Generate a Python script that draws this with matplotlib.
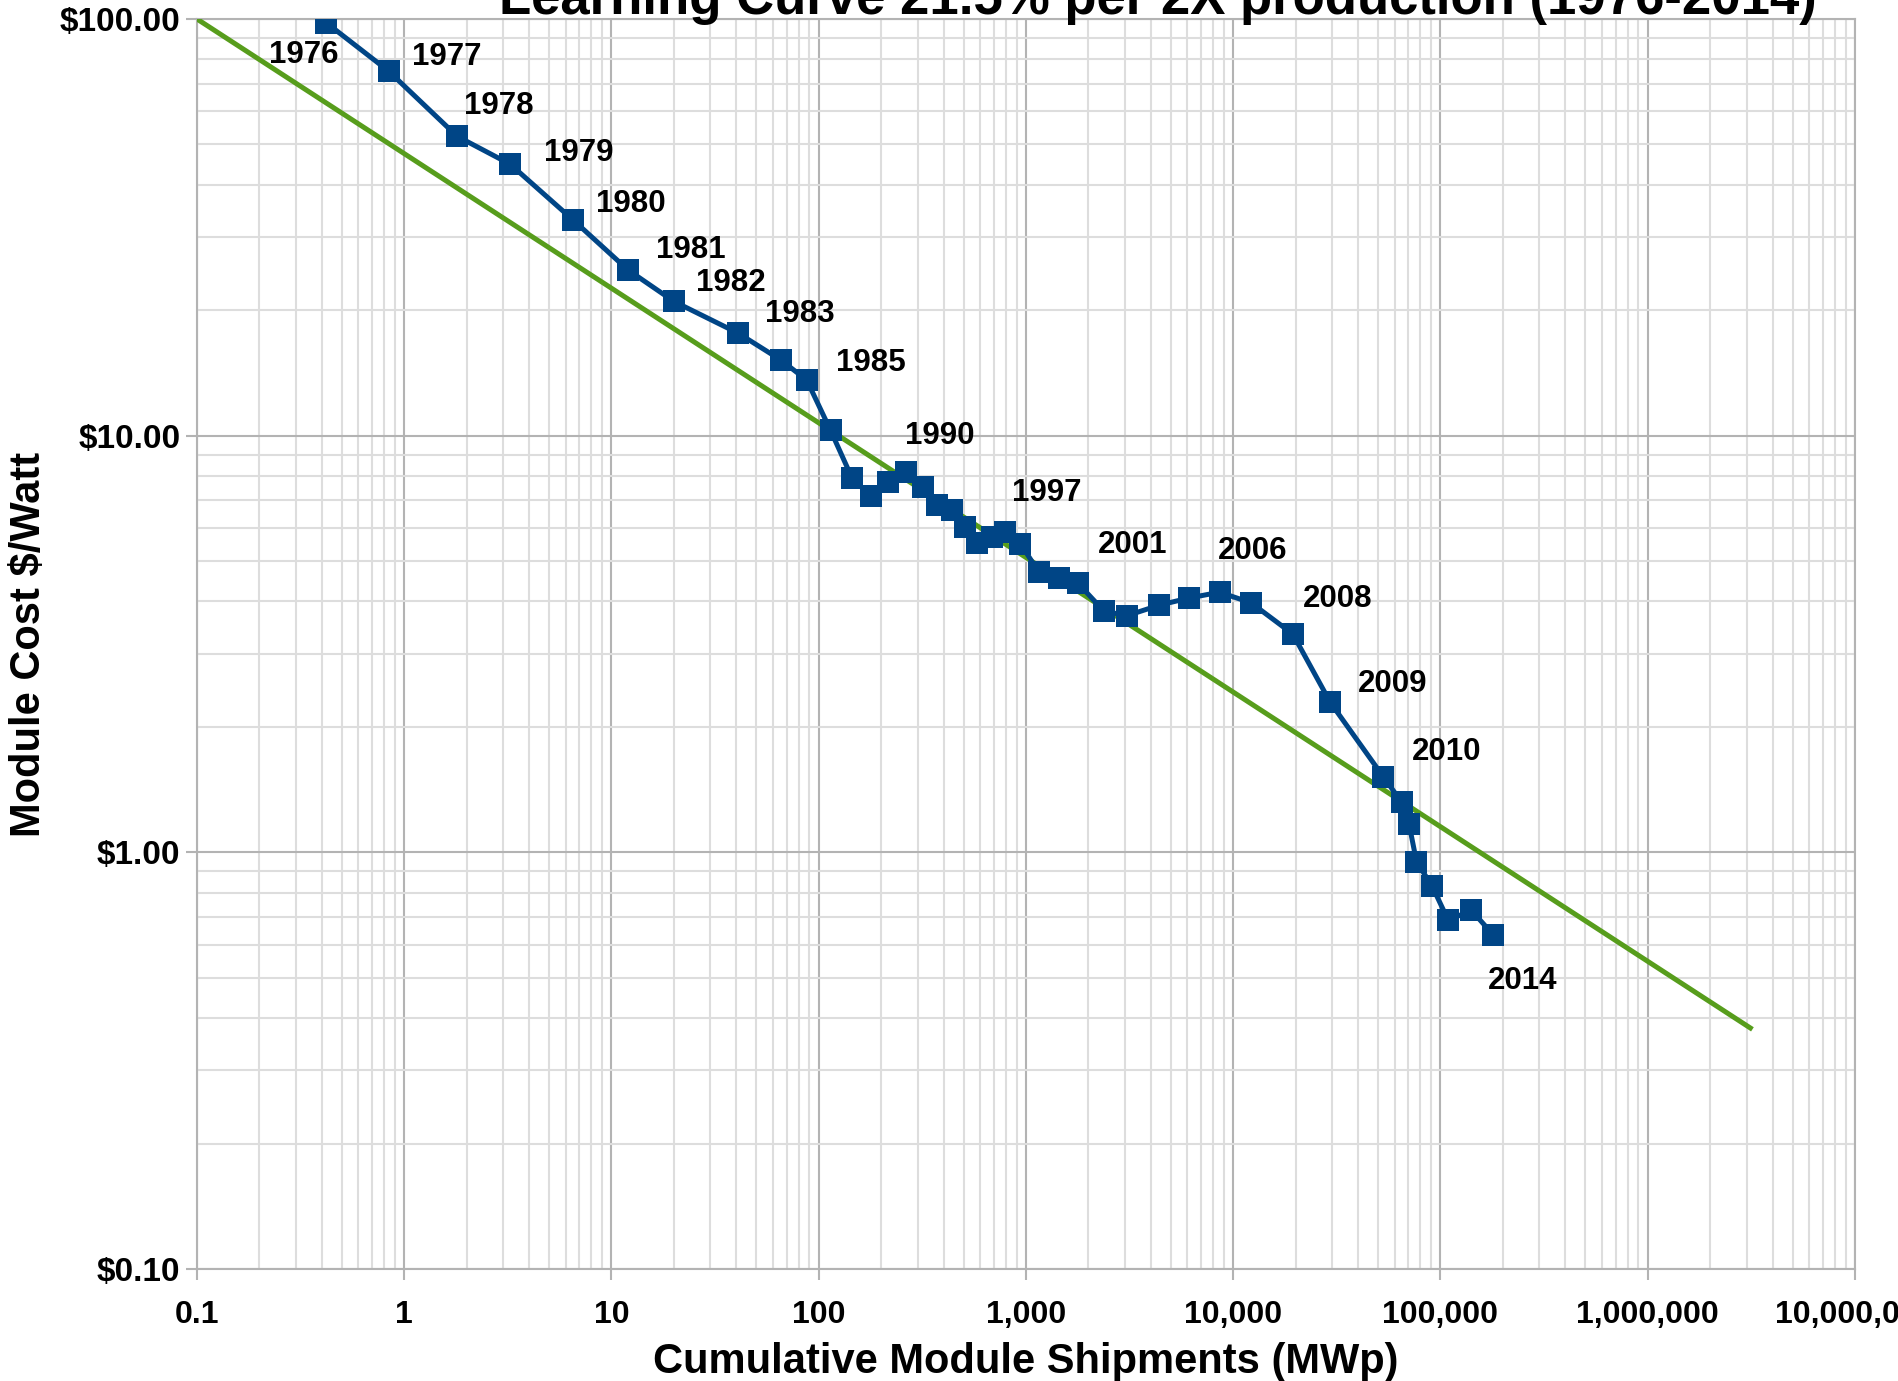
import matplotlib
matplotlib.use("Agg")
import matplotlib.pyplot as plt
from matplotlib.ticker import LogLocator, FuncFormatter, NullFormatter

# Cumulative shipments (MWp) and module cost ($/W)
shipments = [0.42, 0.84, 1.8, 3.25, 6.5, 12.0, 20.0, 41.0, 65.5, 87.5,
             114, 145, 179, 217, 265, 319, 372, 440, 507, 580,
             685, 792, 940, 1150, 1440, 1785, 2380, 3080, 4400, 6150,
             8600, 12200, 19400, 29400, 52900, 64900, 70500, 76600, 91300, 109000,
             141000, 180000]
cost = [98.0, 75.0, 52.3, 44.8, 33.0, 25.0, 21.0, 17.6, 15.2, 13.6,
        10.3, 7.9, 7.15, 7.75, 8.19, 7.53, 6.82, 6.62, 6.05, 5.52,
        5.71, 5.86, 5.50, 4.72, 4.56, 4.42, 3.79, 3.70, 3.92, 4.08,
        4.21, 3.97, 3.34, 2.29, 1.52, 1.32, 1.17, 0.950, 0.828, 0.687,
        0.726, 0.633]

# learning curve trend line end points
trend_x = [0.1, 3.2e6]
trend_y = [100.0, 0.376]

# year labels: (index of point, text)
year_idx = [0, 1, 2, 3, 4, 5, 6, 7, 9, 14, 21, 25, 30, 32, 33, 34, 41]
year_txt = ["1976", "1977", "1978", "1979", "1980", "1981", "1982", "1983", "1985",
            "1990", "1997", "2001", "2006", "2008", "2009", "2010", "2014"]
# label offsets in points
year_off = [(-16, -23), (42, 10), (30, 22), (49, 8), (42, 11), (45, 14), (41, 13),
            (44, 14), (46, 12), (24, 26), (30, 28), (39, 28), (24, 30), (32, 25),
            (45, 13), (46, 18), (21, -33)]

x_ticks = [0.1, 1, 10, 100, 1e3, 1e4, 1e5, 1e6, 1e7]
y_ticks = [0.1, 1, 10, 100]

plt.rcParams['font.family'] = ['Liberation Sans', 'DejaVu Sans']
plt.rcParams['font.weight'] = 'bold'

fig = plt.figure(figsize=(18.98, 13.81), dpi=100)
ax = fig.add_axes([0.10379, 0.08110, 0.87355, 0.90514])

blue = "#004586"
green = "#579d1c"

ax.plot(trend_x, trend_y, color=green, lw=3.6, zorder=3, solid_capstyle='butt')
ax.plot(shipments, cost, color=blue, lw=3.6, marker='s', markersize=16.5,
        markeredgewidth=0, zorder=4)

for i, t, off in zip(year_idx, year_txt, year_off):
    ax.annotate(t, (shipments[i], cost[i]), xytext=off, textcoords='offset points',
                ha='center', va='center', fontsize=22.5, fontweight='bold', zorder=5)

ax.set_xscale('log')
ax.set_yscale('log')
ax.set_xlim(0.1, 1e7)
ax.set_ylim(0.1, 100)

ax.set_xticks(x_ticks)
ax.set_yticks(y_ticks)
ax.xaxis.set_minor_locator(LogLocator(base=10, subs=range(2, 10), numticks=100))
ax.yaxis.set_minor_locator(LogLocator(base=10, subs=range(2, 10), numticks=100))
ax.xaxis.set_minor_formatter(NullFormatter())
ax.yaxis.set_minor_formatter(NullFormatter())
ax.xaxis.set_major_formatter(FuncFormatter(lambda v, p: "0.1" if v < 1 else f"{int(round(v)):,}"))
ax.yaxis.set_major_formatter(FuncFormatter(lambda v, p: f"${v:.2f}"))

ax.grid(True, which='major', color='#b3b3b3', lw=1.5, zorder=0)
ax.grid(True, which='minor', color='#dddddd', lw=1.5, zorder=0)
ax.set_axisbelow(True)

ax.tick_params(which='major', length=8, width=1.5, color='#b3b3b3', labelsize=23)
ax.tick_params(axis='x', which='major', pad=14)
ax.tick_params(axis='y', which='major', pad=4, labelsize=24)
ax.tick_params(which='minor', length=0)
for lab in ax.get_xticklabels() + ax.get_yticklabels():
    lab.set_fontweight('bold')
for s in ax.spines.values():
    s.set_color('#b3b3b3')
    s.set_linewidth(1.5)

fig.text(0.5405, 0.006, "Cumulative Module Shipments (MWp)", ha='center', va='baseline',
         fontsize=30, fontweight='bold')
fig.text(0.0155, 0.533, "Module Cost $/Watt", ha='center', va='center', rotation=90,
         fontsize=30, fontweight='bold')
fig.text(0.610, 0.9899, "Learning Curve 21.5% per 2X production (1976-2014)",
         ha='center', va='baseline', fontsize=38, fontweight='bold')

fig.savefig("out.png", dpi=100, facecolor='white')
